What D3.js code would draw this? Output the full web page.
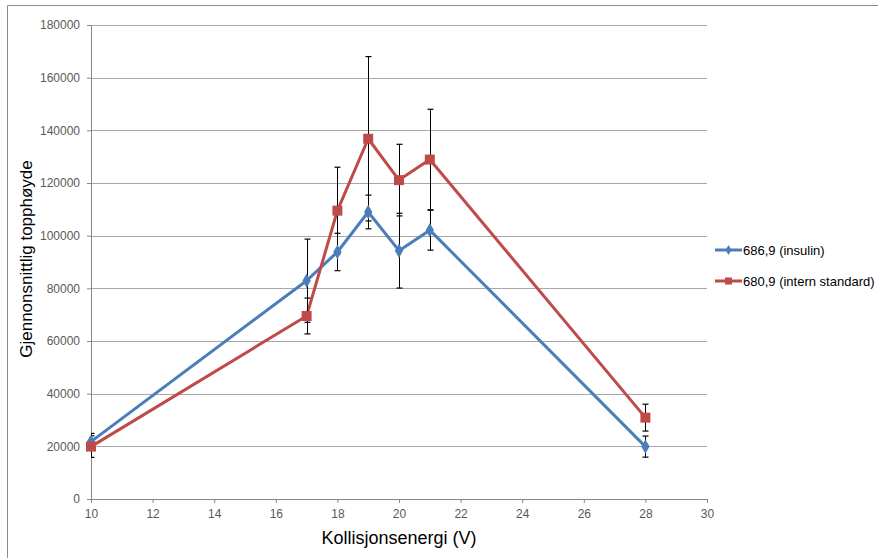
<!DOCTYPE html>
<html>
<head>
<meta charset="utf-8">
<script src="https://cdn.jsdelivr.net/npm/d3@7"></script>
<style>
  body { margin: 0; background: #fff; }
  svg { display: block; font-family: "Liberation Sans", Arial, sans-serif; }
  .tick text { fill: #595959; font-size: 12px; }
  .axis-title { fill: #000; }
  .legend { font-size: 13px; fill: #000; }
</style>
</head>
<body>
<div id="chart"></div>
<script>
// chart data
const energy = [10, 17, 18, 19, 20, 21, 28];
const insulin = [21800, 82900, 93800, 109000, 94300, 102100, 19900];
const insulinErr = [3100, 15800, 7100, 6400, 14200, 7600, 4000];
const intern = [19900, 69500, 109500, 136800, 121100, 128900, 30900];
const internErr = [4100, 6800, 16500, 31200, 13600, 19100, 5100];
const xTicks = [10, 12, 14, 16, 18, 20, 22, 24, 26, 28, 30];
const yTicks = [0, 20000, 40000, 60000, 80000, 100000, 120000, 140000, 160000, 180000];
const seriesNames = ["686,9 (insulin)", "680,9 (intern standard)"];

const W = 878, H = 558;
const margin = { top: 25, right: 171, bottom: 59, left: 91 };
const width = W - margin.left - margin.right;
const height = H - margin.top - margin.bottom;

const svg = d3.select("#chart")
    .append("svg")
    .attr("width", W)
    .attr("height", H);

// outer frame (top and left edge only visible)
svg.append("path")
    .attr("d", `M7.5,${H} L7.5,5.5 L${W},5.5`)
    .attr("fill", "none")
    .attr("stroke", "#8c8c8c")
    .attr("stroke-width", 1);

const g = svg.append("g")
    .attr("transform", `translate(${margin.left}, ${margin.top})`);

const x = d3.scaleLinear().domain([10, 30]).range([0, width]);
const y = d3.scaleLinear().domain([0, 180000]).range([height, 0]);

// grid lines
g.append("g")
    .selectAll("line")
    .data(yTicks.slice(1))
    .join("line")
    .attr("x1", 0)
    .attr("x2", width)
    .attr("y1", d => Math.round(y(d)) + 0.5)
    .attr("y2", d => Math.round(y(d)) + 0.5)
    .attr("stroke", "#a8a8a8")
    .attr("stroke-width", 1);

// axes
const yAxis = g.append("g")
    .call(d3.axisLeft(y).tickValues(yTicks).tickSize(4).tickPadding(7).tickFormat(d3.format("d")));
const xAxis = g.append("g")
    .attr("transform", `translate(0, ${height})`)
    .call(d3.axisBottom(x).tickValues(xTicks).tickSize(4).tickPadding(6));
[yAxis, xAxis].forEach(a => {
    a.select(".domain").attr("stroke", "#868686");
    a.selectAll(".tick line").attr("stroke", "#868686");
    a.selectAll(".tick text").style("font-family", "'Liberation Sans', Arial, sans-serif");
});

// axis titles
svg.append("text")
    .attr("class", "axis-title")
    .style("font-size", "18px")
    .attr("x", 399)
    .attr("y", 544)
    .attr("text-anchor", "middle")
    .text("Kollisjonsenergi (V)");
svg.append("text")
    .attr("class", "axis-title")
    .style("font-size", "17px")
    .attr("transform", "translate(32, 259) rotate(-90)")
    .attr("text-anchor", "middle")
    .text("Gjennonsnittlig topphøyde");

const series = [
    { name: seriesNames[0], values: insulin, err: insulinErr, color: "#4a7ebb", shape: d3.symbolDiamond, size: 60 },
    { name: seriesNames[1], values: intern, err: internErr, color: "#be4b48", shape: d3.symbolSquare, size: 100 }
];

// lines
const line = d3.line().x(d => x(d[0])).y(d => y(d[1]));
series.forEach(s => {
    g.append("path")
        .datum(energy.map((e, i) => [e, s.values[i]]))
        .attr("fill", "none")
        .attr("stroke", s.color)
        .attr("stroke-width", 3)
        .attr("stroke-linejoin", "round")
        .attr("d", line);
});

// error bars, clipped to the plot area
g.append("clipPath")
    .attr("id", "plot-clip")
    .append("rect")
    .attr("x", 0).attr("y", -10)
    .attr("width", width).attr("height", height + 10);
const errG = g.append("g").attr("clip-path", "url(#plot-clip)");
series.forEach(s => {
    energy.forEach((e, i) => {
        const cx = Math.round(x(e)) + 0.5;
        const y0 = y(s.values[i] - s.err[i]);
        const y1 = y(s.values[i] + s.err[i]);
        errG.append("line")
            .attr("x1", cx).attr("x2", cx)
            .attr("y1", y0).attr("y2", y1)
            .attr("stroke", "#000").attr("stroke-width", 1);
        [y0, y1].forEach(yy => {
            errG.append("line")
                .attr("x1", cx - 3).attr("x2", cx + 3)
                .attr("y1", yy).attr("y2", yy)
                .attr("stroke", "#000").attr("stroke-width", 1.2);
        });
    });
});

// markers
series.forEach(s => {
    g.append("g")
        .selectAll("path")
        .data(energy.map((e, i) => [e, s.values[i]]))
        .join("path")
        .attr("transform", d => `translate(${x(d[0])}, ${y(d[1])})`)
        .attr("d", d3.symbol().type(s.shape).size(s.size))
        .attr("fill", s.color);
});

// legend
const legendY = [250, 281];
series.forEach((s, i) => {
    const lg = svg.append("g").attr("transform", `translate(715, ${legendY[i]})`);
    lg.append("line")
        .attr("x1", 0).attr("x2", 27)
        .attr("stroke", s.color).attr("stroke-width", 3);
    lg.append("path")
        .attr("transform", "translate(13.5, 0)")
        .attr("d", d3.symbol().type(s.shape).size(s.size * 0.5))
        .attr("fill", s.color);
    lg.append("text")
        .attr("class", "legend")
        .attr("x", 28)
        .attr("dy", "0.35em")
        .text(s.name);
});
</script>
</body>
</html>
